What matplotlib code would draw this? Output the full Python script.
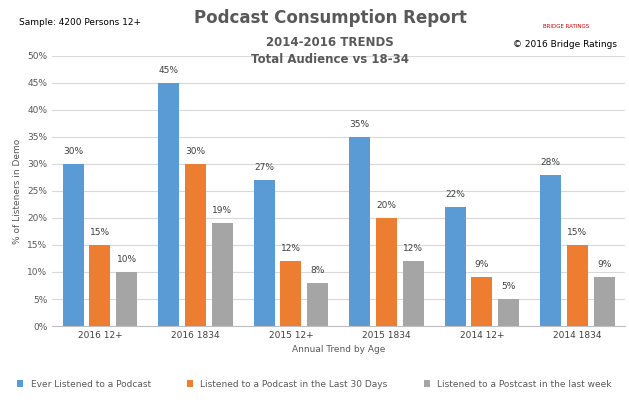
import matplotlib
matplotlib.use("Agg")
import matplotlib.pyplot as plt
import numpy as np

categories = ["2016 12+", "2016 1834", "2015 12+", "2015 1834", "2014 12+", "2014 1834"]
ever = [30, 45, 27, 35, 22, 28]
last30 = [15, 30, 12, 20, 9, 15]
lastweek = [10, 19, 8, 12, 5, 9]
series_names = ["Ever Listened to a Podcast", "Listened to a Podcast in the Last 30 Days",
                "Listened to a Postcast in the last week"]
colors = ["#5B9BD5", "#ED7D31", "#A5A5A5"]

fig = plt.figure(figsize=(6.29, 4.05), dpi=100)
ax = fig.add_axes([0.083, 0.195, 0.911, 0.667])
x = np.arange(len(categories))
w = 0.22
step = 0.28
for i, (vals, c, n) in enumerate(zip([ever, last30, lastweek], colors, series_names)):
    bars = ax.bar(x + (i - 1) * step, vals, w, color=c, label=n)
    for b, v in zip(bars, vals):
        ax.text(b.get_x() + b.get_width() / 2, v + 1.5, f"{v}%", ha="center", va="bottom",
                fontsize=6.5, color="#404040")
ax.set_xlim(-0.5, len(categories) - 0.5)
ax.set_ylim(0, 50)
ax.set_yticks(range(0, 51, 5))
ax.set_yticklabels([f"{t}%" for t in range(0, 51, 5)], fontsize=6.5, color="#595959")
ax.set_xticks(x)
ax.set_xticklabels(categories, fontsize=6.5, color="#404040")
ax.grid(axis="y", color="#D9D9D9", linewidth=0.8)
ax.set_axisbelow(True)
for s in ["top", "right", "left"]:
    ax.spines[s].set_visible(False)
ax.spines["bottom"].set_color("#BFBFBF")
ax.tick_params(length=0)
ax.set_ylabel("% of Listeners in Demo", fontsize=6.5, color="#595959")
ax.set_xlabel("Annual Trend by Age", fontsize=6.5, color="#595959", labelpad=4)

fig.text(0.525, 0.955, "Podcast Consumption Report", ha="center", va="center",
         fontsize=12, fontweight="bold", color="#595959")
fig.text(0.525, 0.895, "2014-2016 TRENDS", ha="center", va="center",
         fontsize=8.5, fontweight="bold", color="#595959")
fig.text(0.525, 0.852, "Total Audience vs 18-34", ha="center", va="center",
         fontsize=8.5, fontweight="bold", color="#595959")
fig.text(0.03, 0.945, "Sample: 4200 Persons 12+", ha="left", va="center", fontsize=6.5, color="black")
fig.text(0.815, 0.89, "© 2016 Bridge Ratings", ha="left", va="center", fontsize=6.5, color="black")
fig.text(0.9, 0.935, "BRIDGE RATINGS", ha="center", va="center", fontsize=4, color="#C00000")

fig.legend(loc="lower center", ncol=3, bbox_to_anchor=(0.5, 0.02), frameon=False,
           fontsize=6.5, handlelength=0.7, handleheight=0.7, columnspacing=4.0,
           labelcolor="#595959")
fig.savefig("out.png", dpi=100, facecolor="white")
